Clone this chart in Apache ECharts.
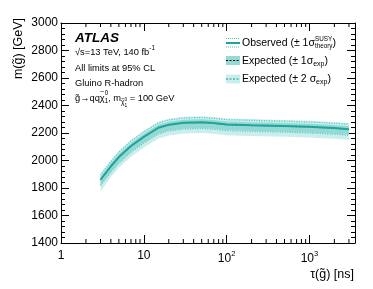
<!DOCTYPE html>
<html><head><meta charset="utf-8">
<script src="https://cdn.jsdelivr.net/npm/echarts@6/dist/echarts.min.js"></script>
<style>html,body{margin:0;padding:0;background:#fff}#c{width:373px;height:289px}</style>
</head><body><div id="c"></div>
<script>
// ---- data ----
const tau      = [3, 4, 5, 7, 10, 15, 20, 30, 50, 70, 100, 200, 500, 1000, 2000, 3000];
const obs      = [1860, 1958, 2025, 2105, 2172, 2238, 2260, 2274, 2278, 2272, 2262, 2257, 2251, 2245, 2236, 2228];
const obsUp    = [1893, 1992, 2060, 2141, 2208, 2273, 2295, 2309, 2313, 2307, 2297, 2292, 2286, 2280, 2271, 2263];
const obsDown  = [1820, 1915, 1981, 2060, 2127, 2193, 2215, 2229, 2233, 2227, 2217, 2212, 2206, 2200, 2191, 2183];
const expd     = [1857, 1955, 2022, 2102, 2169, 2235, 2257, 2271, 2275, 2269, 2259, 2254, 2248, 2242, 2233, 2225];
const exp1Up   = [1882, 1980, 2047, 2127, 2194, 2260, 2282, 2296, 2300, 2294, 2284, 2279, 2273, 2267, 2258, 2250];
const exp1Down = [1818, 1917, 1984, 2064, 2131, 2197, 2219, 2233, 2237, 2231, 2221, 2216, 2210, 2204, 2195, 2187];
const exp2Up   = [1905, 2002, 2069, 2149, 2216, 2282, 2304, 2318, 2322, 2316, 2306, 2301, 2295, 2289, 2280, 2272];
const exp2Down = [1775, 1880, 1947, 2027, 2094, 2160, 2182, 2196, 2200, 2194, 2184, 2179, 2173, 2167, 2158, 2150];
const xTickLabels = {1: '1', 10: '10', 100: '10{sup|2}', 1000: '10{sup|3}'};
const xMinorTicks = [2,3,4,5,6,7,8,9,20,30,40,50,60,70,80,90,200,300,400,500,600,700,800,900,2000,3000];
const yTicks = [1400, 1600, 1800, 2000, 2200, 2400, 2600, 2800, 3000];

const FONT = 'Liberation Sans, Arial, sans-serif';
const cLight = '#caeeec', cMed = '#95d9d4', cLine = '#1fa49c', cDot = '#4fc3bd', cExp = '#2a8c86';

const pair = (ys) => tau.map((t, i) => [t, ys[i]]);

function bandSeries(up, down, color) {
  return {
    type: 'custom', silent: true, z: 1,
    data: [[tau[0], up[0]]],
    renderItem: function (params, api) {
      const pts = [];
      for (let i = 0; i < tau.length; i++) pts.push(api.coord([tau[i], up[i]]));
      for (let i = tau.length - 1; i >= 0; i--) pts.push(api.coord([tau[i], down[i]]));
      return {type: 'polygon', shape: {points: pts}, style: {fill: color}};
    }
  };
}

const chart = echarts.init(document.getElementById('c'), null, {renderer: 'canvas'});
const axisLineStyle = {color: '#000', width: 1};
const option = {
  animation: false,
  grid: {left: 61, right: 18, top: 23, bottom: 46},
  xAxis: [{
    type: 'log', logBase: 10, min: 1, max: 3550,
    axisLine: {show: true, lineStyle: axisLineStyle},
    axisTick: {show: true, inside: true, length: 8, lineStyle: {color: '#000'}},
    splitLine: {show: false},
    axisLabel: {
      fontFamily: FONT, fontSize: 12, color: '#000', margin: 7, showMaxLabel: false,
      formatter: v => (xTickLabels[Math.round(v)] !== undefined && Math.abs(v - Math.round(v)) < 1e-6) ? xTickLabels[Math.round(v)] : '',
      rich: {sup: {fontSize: 7.5, verticalAlign: 'bottom', padding: [0, 0, 9, 0], fontFamily: FONT, color: '#000'}}
    }
  }, {
    type: 'log', logBase: 10, min: 1, max: 3550, position: 'top',
    axisLine: {show: true, lineStyle: axisLineStyle},
    axisTick: {show: true, inside: true, length: 8, lineStyle: {color: '#000'}},
    axisLabel: {show: false}, splitLine: {show: false}
  }],
  yAxis: [{
    type: 'value', min: 1400, max: 3000, interval: 200,
    axisLine: {show: true, lineStyle: axisLineStyle},
    axisTick: {show: true, inside: true, length: 8, lineStyle: {color: '#000'}},
    minorTick: {show: true, splitNumber: 5, length: 4, lineStyle: {color: '#000'}},
    splitLine: {show: false},
    axisLabel: {fontFamily: FONT, fontSize: 12, color: '#000', margin: 3,
      formatter: v => yTicks.indexOf(v) >= 0 ? String(v) : ''}
  }, {
    type: 'value', min: 1400, max: 3000, interval: 200, position: 'right',
    axisLine: {show: true, lineStyle: axisLineStyle},
    axisTick: {show: true, inside: true, length: 8, lineStyle: {color: '#000'}},
    minorTick: {show: true, splitNumber: 5, length: 4, lineStyle: {color: '#000'}},
    axisLabel: {show: false}, splitLine: {show: false}
  }],
  series: [
    bandSeries(exp2Up, exp2Down, cLight),
    bandSeries(exp1Up, exp1Down, cMed),
    {type: 'line', data: pair(expd), symbol: 'none', z: 3, silent: true,
     lineStyle: {color: cExp, width: 1, type: [2, 2]}},
    {type: 'line', data: pair(obsUp), symbol: 'none', z: 4, silent: true,
     lineStyle: {color: cDot, width: 1.2, type: [1, 1.5]}},
    {type: 'line', data: pair(obsDown), symbol: 'none', z: 4, silent: true,
     lineStyle: {color: cDot, width: 1.2, type: [1, 1.5]}},
    {type: 'line', data: pair(obs), symbol: 'none', z: 5, silent: true,
     lineStyle: {color: cLine, width: 2}},
    {type: 'custom', silent: true, z: 6,
     data: xMinorTicks.map(v => [v, 1400]),
     renderItem: function (params, api) {
       const v = api.value(0);
       const b = api.coord([v, 1400]);
       const t = api.coord([v, 3000]);
       return {type: 'group', children: [
         {type: 'line', shape: {x1: b[0], y1: b[1], x2: b[0], y2: b[1] - 4}, style: {stroke: '#000', lineWidth: 1}},
         {type: 'line', shape: {x1: t[0], y1: t[1], x2: t[0], y2: t[1] + 4}, style: {stroke: '#000', lineWidth: 1}}
       ]};
     }}
  ]
};

// ---- text layout helpers ----
const g = [];
const mctx = document.createElement('canvas').getContext('2d');
function measure(t, size) {
  mctx.font = 'normal normal ' + size + 'px ' + FONT;
  return mctx.measureText(t).width;
}
function txt(x, y, text, size, extra) {
  g.push({type: 'text', x: x, y: y,
    style: Object.assign({text: text, fontFamily: FONT, fontSize: size, fill: '#000', verticalAlign: 'middle'}, extra || {})});
}
// parts: {t, s, dy, stack, tilde}
function seq(x, y, parts) {
  let cur = x, prevStart = x, prevW = 0;
  parts.forEach(p => {
    const w = measure(p.t, p.s);
    let start;
    if (p.stack) { start = prevStart; cur = prevStart + Math.max(prevW, w); prevW = Math.max(prevW, w); }
    else { start = cur; cur = start + w; prevW = w; }
    prevStart = start;
    txt(start, y + (p.dy || 0), p.t, p.s);
    if (p.tilde) txt(start + w / 2, y + (p.dy || 0) - p.s * 0.62, '~', p.s * 0.8, {align: 'center'});
  });
  return cur;
}
// ATLAS label block
txt(75, 38, 'ATLAS', 13.5, {fontWeight: 'bold', fontStyle: 'italic'});
seq(75, 52, [{t: '\u221As=13 TeV, 140 fb', s: 9.3}, {t: '-1', s: 6.3, dy: -3.5}]);
txt(75, 68, 'All limits at 95% CL', 9.3);
txt(75, 83, 'Gluino R-hadron', 9.3);
seq(75, 98, [
  {t: 'g\u0303\u2192qq', s: 9.3}, {t: '\u03C7', s: 9.3, tilde: true},
  {t: '0', s: 6.3, dy: -4.5}, {t: '1', s: 6.3, dy: 3.5, stack: true},
  {t: ', m', s: 9.3}, {t: '\u03C7', s: 6.5, dy: 4.5, tilde: true},
  {t: '0', s: 4.8, dy: 2}, {t: '1', s: 4.8, dy: 8, stack: true},
  {t: ' = 100 GeV', s: 9.3}
]);
// legend
const lx0 = 226, lx1 = 240;
g.push({type: 'rect', shape: {x: lx0, y: 56, width: lx1 - lx0, height: 9}, style: {fill: cMed}});
g.push({type: 'rect', shape: {x: lx0, y: 74.5, width: lx1 - lx0, height: 9}, style: {fill: cLight}});
g.push({type: 'line', shape: {x1: lx0, y1: 38.5, x2: lx1, y2: 38.5}, style: {stroke: cDot, lineWidth: 1, lineDash: [1, 1]}});
g.push({type: 'line', shape: {x1: lx0, y1: 47, x2: lx1, y2: 47}, style: {stroke: cDot, lineWidth: 1, lineDash: [1, 1]}});
g.push({type: 'line', shape: {x1: lx0, y1: 43, x2: lx1, y2: 43}, style: {stroke: cLine, lineWidth: 2}});
g.push({type: 'line', shape: {x1: lx0, y1: 60.5, x2: lx1, y2: 60.5}, style: {stroke: '#000', lineWidth: 1, lineDash: [2, 1.5]}});
g.push({type: 'line', shape: {x1: lx0, y1: 79, x2: lx1, y2: 79}, style: {stroke: cExp, lineWidth: 1, lineDash: [2, 1.5]}});
seq(242, 43, [{t: 'Observed (\u00B1 1\u03C3', s: 10.5}, {t: 'SUSY', s: 6.3, dy: -4}, {t: 'theory', s: 6.3, dy: 3.5, stack: true}, {t: ')', s: 10.5}]);
seq(242, 61, [{t: 'Expected (\u00B1 1\u03C3', s: 10.5}, {t: 'exp', s: 7, dy: 3}, {t: ')', s: 10.5}]);
seq(242, 79, [{t: 'Expected (\u00B1 2 \u03C3', s: 10.5}, {t: 'exp', s: 7, dy: 3}, {t: ')', s: 10.5}]);
// axis titles
txt(354, 275, '\u03C4(g\u0303) [ns]', 12.5, {align: 'right'});
g.push({type: 'text', x: 19, y: 18, rotation: Math.PI / 2,
  style: {text: 'm(g\u0303) [GeV]', fontFamily: FONT, fontSize: 12.5, fill: '#000', align: 'right', verticalAlign: 'middle'}});
option.graphic = g;
chart.setOption(option);
</script></body></html>
